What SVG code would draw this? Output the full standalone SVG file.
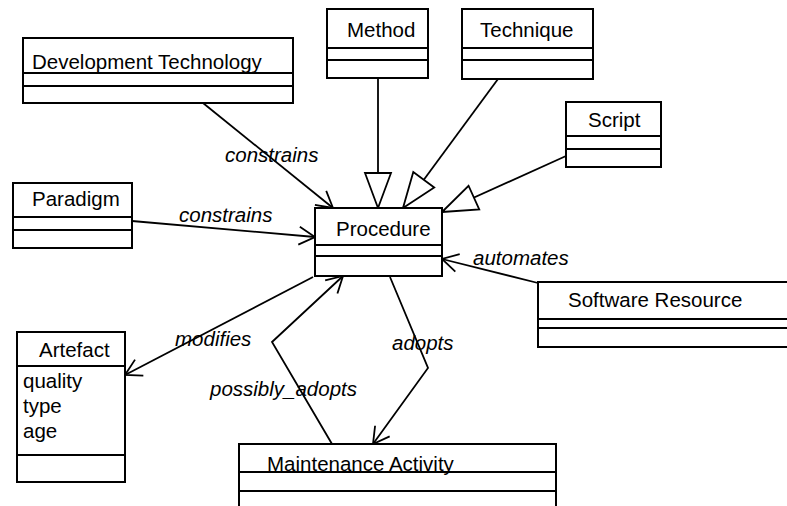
<svg xmlns="http://www.w3.org/2000/svg" width="787" height="506" viewBox="0 0 787 506">
<defs>
<style>
.box{fill:#fff;stroke:#000;stroke-width:2}
.div{stroke:#000;stroke-width:2}
.t{font-family:"Liberation Sans",Arial,sans-serif;font-size:20.5px;fill:#000}
.lbl{font-family:"Liberation Sans",Arial,sans-serif;font-size:20.5px;font-style:italic;fill:#000}
.ln{fill:none;stroke:#000;stroke-width:1.8}
.open{marker-end:url(#arrow)}
.gen{marker-end:url(#tri)}
</style>
<marker id="arrow" markerUnits="userSpaceOnUse" markerWidth="40" markerHeight="40" viewBox="-20 -20 40 40" refX="0" refY="0" orient="auto" overflow="visible">
<path d="M -16 -9 L 0 0 L -16 9" fill="none" stroke="#000" stroke-width="1.8"/>
</marker>
<marker id="tri" markerUnits="userSpaceOnUse" markerWidth="80" markerHeight="80" viewBox="-40 -40 80 80" refX="0" refY="0" orient="auto" overflow="visible">
<path d="M 0 0 L -35 -13 L -35 13 Z" fill="#fff" stroke="#000" stroke-width="1.8"/>
</marker>
</defs>
<rect width="787" height="506" fill="#fff"/>

<g id="connectors">
<line class="ln open" x1="203" y1="103" x2="333" y2="208"/>
<line class="ln open" x1="132" y1="221" x2="315" y2="237"/>
<line class="ln gen" x1="378" y1="78" x2="378" y2="208"/>
<line class="ln gen" x1="498" y1="79" x2="403" y2="208"/>
<line class="ln gen" x1="566" y1="156" x2="442" y2="212"/>
<line class="ln open" x1="538" y1="283" x2="442" y2="259"/>
<line class="ln open" x1="313" y1="277" x2="125" y2="375"/>
<polyline class="ln open" points="332,444 272,342 343,276"/>
<polyline class="ln open" points="390,277 428,368 373,444"/>
<text class="lbl" x="225" y="162">constrains</text>
<text class="lbl" x="179" y="222">constrains</text>
<text class="lbl" x="473" y="265">automates</text>
<text class="lbl" x="175" y="346">modifies</text>
<text class="lbl" x="392" y="350">adopts</text>
<text class="lbl" x="210" y="396">possibly_adopts</text>
</g>

<g id="devtech">
<rect class="box" x="23" y="38" width="270" height="65"/>
<line class="div" x1="23" y1="73" x2="293" y2="73"/>
<line class="div" x1="23" y1="86" x2="293" y2="86"/>
<text class="t" x="32" y="69">Development Technology</text>
</g>

<g id="method">
<rect class="box" x="327" y="9" width="101" height="69"/>
<line class="div" x1="327" y1="48" x2="428" y2="48"/>
<line class="div" x1="327" y1="60" x2="428" y2="60"/>
<text class="t" x="347" y="37">Method</text>
</g>

<g id="technique">
<rect class="box" x="462" y="9" width="131" height="70"/>
<line class="div" x1="462" y1="48" x2="593" y2="48"/>
<line class="div" x1="462" y1="60" x2="593" y2="60"/>
<text class="t" x="480" y="37">Technique</text>
</g>

<g id="script">
<rect class="box" x="566" y="102" width="95" height="65"/>
<line class="div" x1="566" y1="136" x2="661" y2="136"/>
<line class="div" x1="566" y1="149" x2="661" y2="149"/>
<text class="t" x="588" y="127">Script</text>
</g>

<g id="paradigm">
<rect class="box" x="13" y="183" width="119" height="65"/>
<line class="div" x1="13" y1="217" x2="132" y2="217"/>
<line class="div" x1="13" y1="230" x2="132" y2="230"/>
<text class="t" x="32" y="206">Paradigm</text>
</g>

<g id="procedure">
<rect class="box" x="315" y="208" width="127" height="68"/>
<line class="div" x1="315" y1="245" x2="442" y2="245"/>
<line class="div" x1="315" y1="256" x2="442" y2="256"/>
<text class="t" x="336" y="236">Procedure</text>
</g>

<g id="software">
<rect class="box" x="538" y="282" width="252" height="65"/>
<line class="div" x1="538" y1="319" x2="790" y2="319"/>
<line class="div" x1="538" y1="328" x2="790" y2="328"/>
<text class="t" x="568" y="307">Software Resource</text>
</g>

<g id="artefact">
<rect class="box" x="17" y="332" width="108" height="150"/>
<line class="div" x1="17" y1="366" x2="125" y2="366"/>
<line class="div" x1="17" y1="455" x2="125" y2="455"/>
<text class="t" x="39" y="357">Artefact</text>
<text class="t" x="23" y="388">quality</text>
<text class="t" x="23" y="413">type</text>
<text class="t" x="23" y="438">age</text>
</g>

<g id="maintenance">
<rect class="box" x="239" y="444" width="317" height="70"/>
<line class="div" x1="239" y1="472" x2="556" y2="472"/>
<line class="div" x1="239" y1="491" x2="556" y2="491"/>
<text class="t" x="267" y="471">Maintenance Activity</text>
</g>
</svg>
